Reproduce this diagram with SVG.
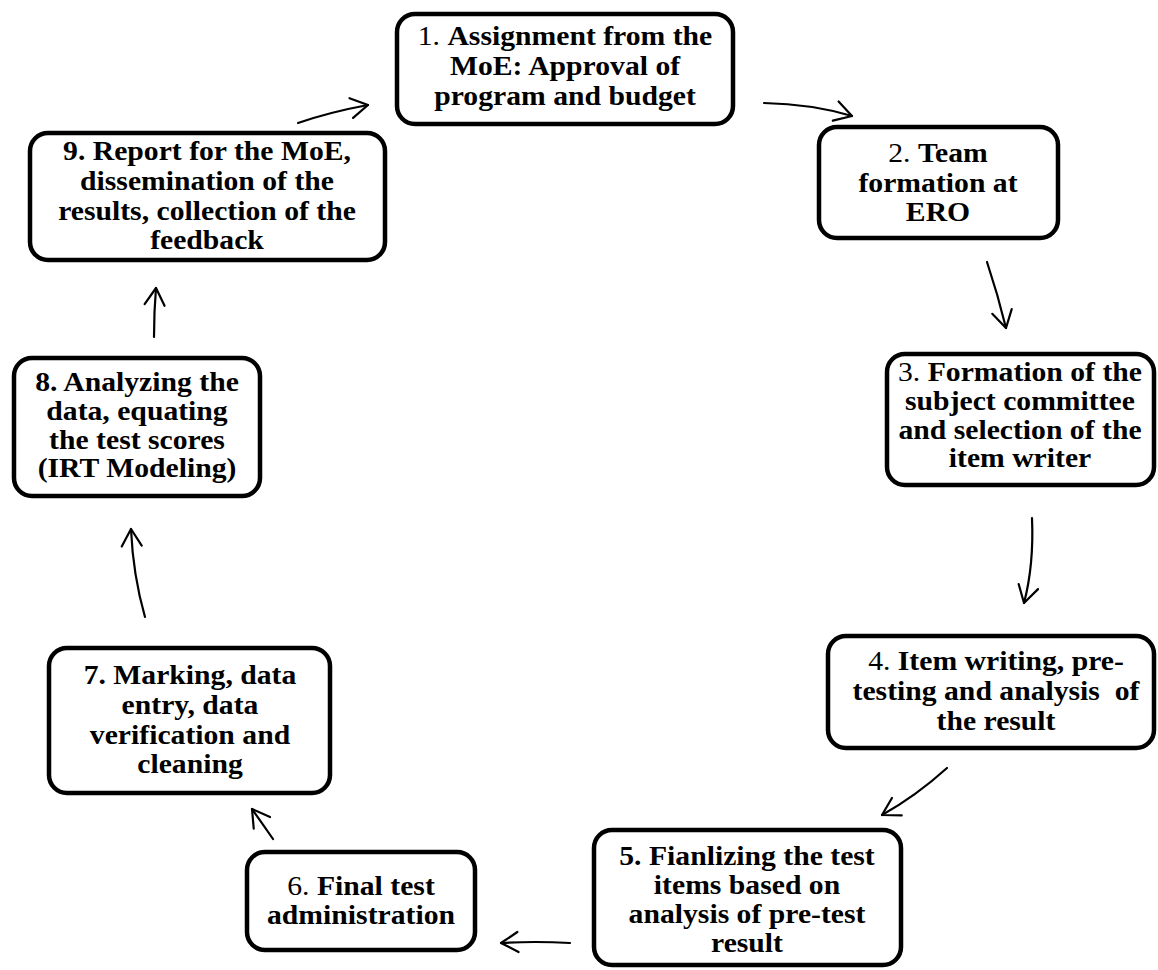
<svg xmlns="http://www.w3.org/2000/svg" width="1158" height="970" viewBox="0 0 1158 970">
<style>
.box{fill:#fff;stroke:#000;stroke-width:4.5}
.t{font-family:"Liberation Serif","Times New Roman",serif;font-size:28px;font-weight:bold;text-anchor:middle;fill:#000}
.n{font-weight:normal}
.c{fill:none;stroke:#000;stroke-width:2.2;stroke-linecap:round;marker-end:url(#ah)}
</style>
<defs>
<marker id="ah" viewBox="-20 -12 22 24" refX="0" refY="0" markerWidth="22" markerHeight="24" markerUnits="userSpaceOnUse" orient="auto">
<path d="M-17,-10 L0,0 L-17,10" fill="none" stroke="#000" stroke-width="2.2" stroke-linecap="round" stroke-linejoin="round"/>
</marker>
</defs>
<rect width="1158" height="970" fill="#fff"/>
<g id="connectors">
<path class="c" d="M298,123 Q330,112 368,105"/>
<path class="c" d="M764,103 Q812,104 852,116"/>
<path class="c" d="M987,262 Q998,295 1006,328"/>
<path class="c" d="M1032,518 Q1034,565 1024,603"/>
<path class="c" d="M947,768 Q916,796 882,815"/>
<path class="c" d="M570,943 Q535,941 501,943"/>
<path class="c" d="M273,839 Q262,823 252,809"/>
<path class="c" d="M145,617 Q133,575 131,529"/>
<path class="c" d="M154,337 Q154,312 156,288"/>
</g>
<g id="node1">
<rect class="box" x="397" y="14" width="336" height="110" rx="18"/>
<text class="t" transform="translate(565,0) scale(1.06,1)"><tspan x="0" y="45"><tspan class="n">1. </tspan>Assignment from the</tspan><tspan x="0" y="75">MoE: Approval of</tspan><tspan x="0" y="105">program and budget</tspan></text>
</g>
<g id="node2">
<rect class="box" x="819" y="127" width="239" height="111" rx="18"/>
<text class="t" transform="translate(938,0) scale(1.06,1)"><tspan x="0" y="162"><tspan class="n">2. </tspan>Team</tspan><tspan x="0" y="192">formation at</tspan><tspan x="0" y="221">ERO</tspan></text>
</g>
<g id="node3">
<rect class="box" x="887" y="354" width="267" height="131" rx="18"/>
<text class="t" transform="translate(1020,0) scale(1.06,1)"><tspan x="0" y="381"><tspan class="n">3. </tspan>Formation of the</tspan><tspan x="0" y="410">subject committee</tspan><tspan x="0" y="439">and selection of the</tspan><tspan x="0" y="467">item writer</tspan></text>
</g>
<g id="node4">
<rect class="box" x="828" y="636" width="326" height="112" rx="18"/>
<text class="t" xml:space="preserve" transform="translate(996,0) scale(1.06,1)"><tspan x="0" y="670"><tspan class="n">4. </tspan>Item writing, pre-</tspan><tspan x="0" y="700">testing and analysis  of</tspan><tspan x="0" y="730">the result</tspan></text>
</g>
<g id="node5">
<rect class="box" x="594" y="830" width="307" height="135" rx="18"/>
<text class="t" transform="translate(747,0) scale(1.06,1)"><tspan x="0" y="865">5. Fianlizing the test</tspan><tspan x="0" y="894">items based on</tspan><tspan x="0" y="923">analysis of pre-test</tspan><tspan x="0" y="952">result</tspan></text>
</g>
<g id="node6">
<rect class="box" x="247" y="852" width="228" height="98" rx="18"/>
<text class="t" transform="translate(361,0) scale(1.06,1)"><tspan x="0" y="895"><tspan class="n">6. </tspan>Final test</tspan><tspan x="0" y="924">administration</tspan></text>
</g>
<g id="node7">
<rect class="box" x="49" y="648" width="281" height="145" rx="18"/>
<text class="t" transform="translate(190,0) scale(1.06,1)"><tspan x="0" y="684">7. Marking, data</tspan><tspan x="0" y="714">entry, data</tspan><tspan x="0" y="744">verification and</tspan><tspan x="0" y="773">cleaning</tspan></text>
</g>
<g id="node8">
<rect class="box" x="14" y="358" width="246" height="138" rx="18"/>
<text class="t" transform="translate(137,0) scale(1.06,1)"><tspan x="0" y="391">8. Analyzing the</tspan><tspan x="0" y="420">data, equating</tspan><tspan x="0" y="449">the test scores</tspan><tspan x="0" y="477">(IRT Modeling)</tspan></text>
</g>
<g id="node9">
<rect class="box" x="30" y="133" width="355" height="127" rx="18"/>
<text class="t" transform="translate(207,0) scale(1.06,1)"><tspan x="0" y="160">9. Report for the MoE,</tspan><tspan x="0" y="190">dissemination of the</tspan><tspan x="0" y="220">results, collection of the</tspan><tspan x="0" y="249">feedback</tspan></text>
</g>
</svg>
